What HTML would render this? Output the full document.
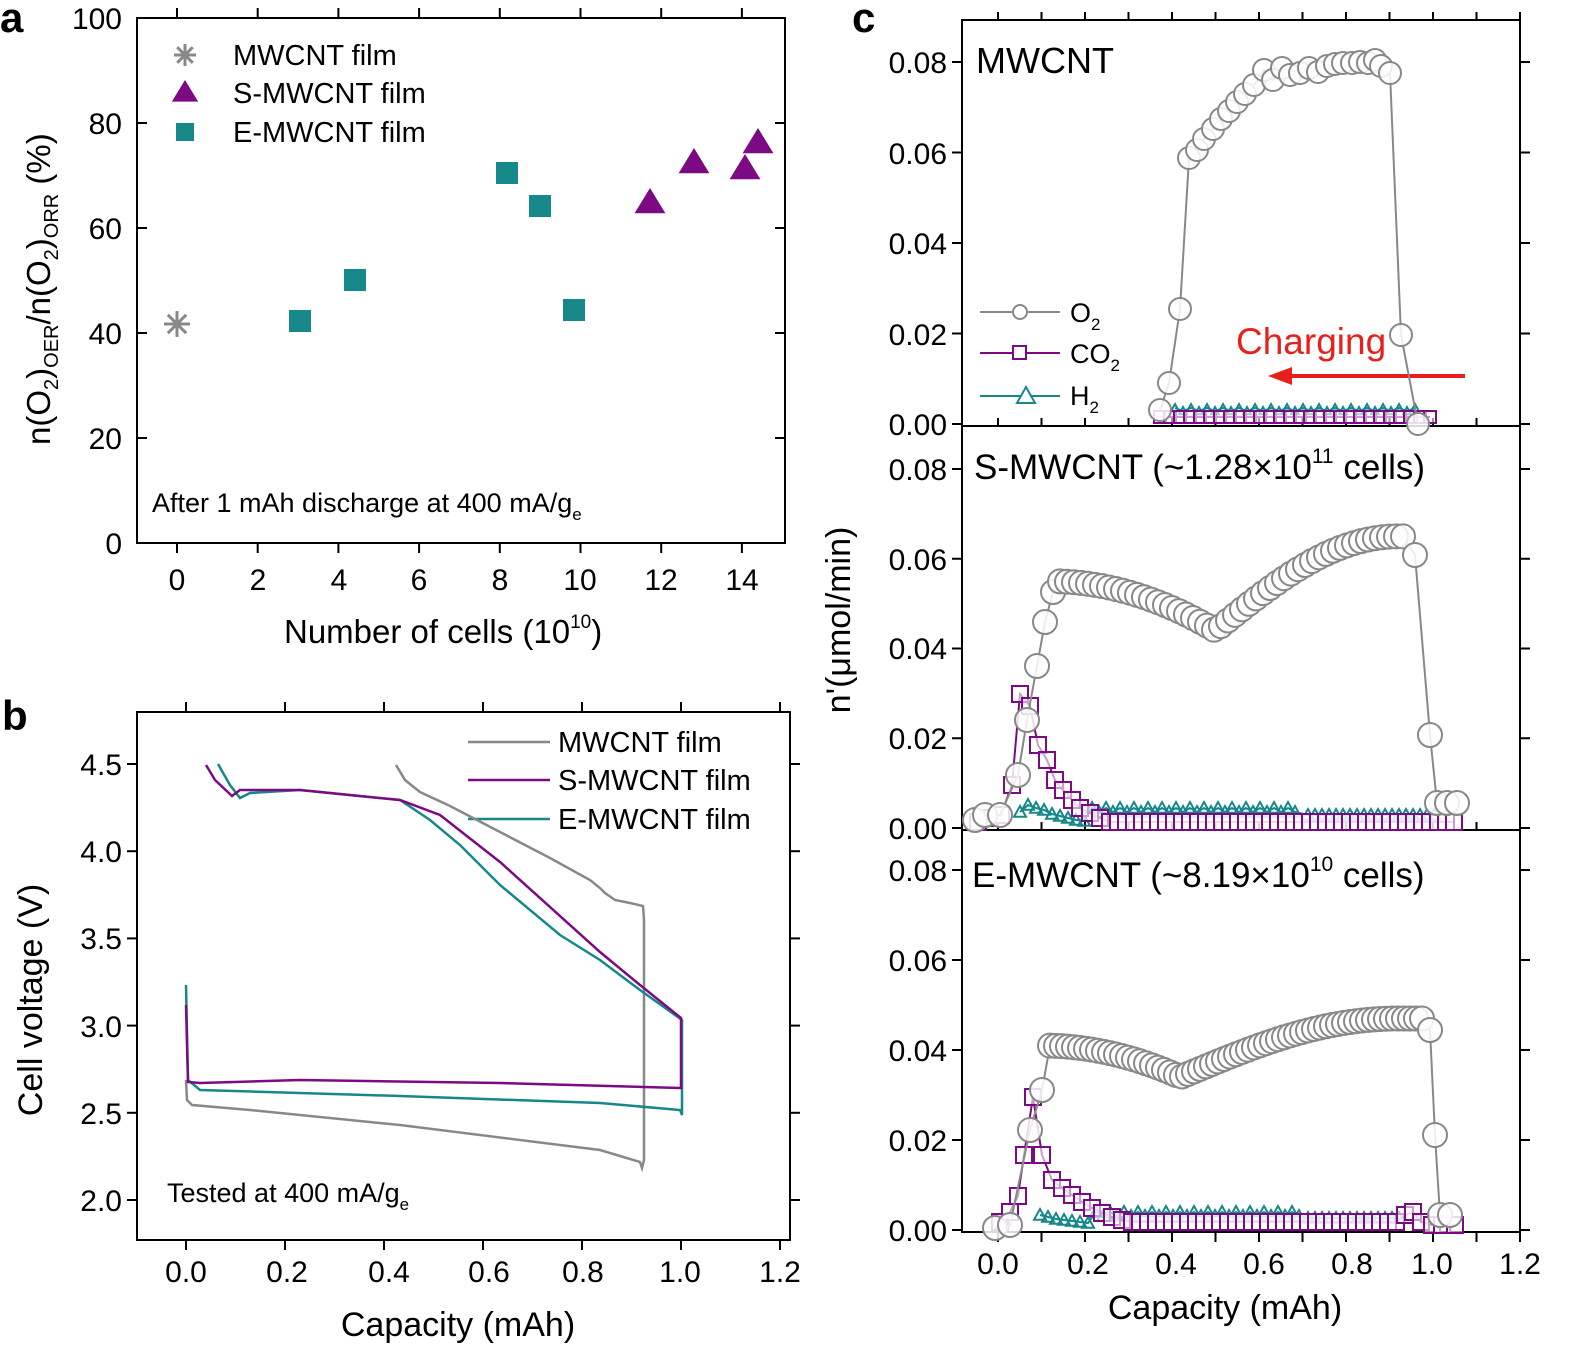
<!DOCTYPE html>
<html><head><meta charset="utf-8"><style>
body{margin:0;background:#fff}
svg text{font-family:"Liberation Sans",sans-serif;fill:#000}
</style></head><body>
<svg id="s" width="1575" height="1354" viewBox="0 0 1575 1354" xmlns="http://www.w3.org/2000/svg">
<g fill="none" stroke="#000" stroke-width="2">
<rect x="137" y="18" width="648" height="525"/>
<rect x="137" y="712" width="653" height="528"/>
<rect x="962" y="20" width="558" height="1212"/>
<line x1="962" y1="426" x2="1520" y2="426"/>
<line x1="962" y1="830" x2="1520" y2="830"/>
</g>
<g font-size="30" text-anchor="end">
<text x="122" y="29">100</text><text x="122" y="134">80</text><text x="122" y="239">60</text><text x="122" y="344">40</text><text x="122" y="449">20</text><text x="122" y="554">0</text>
</g>
<g font-size="30" text-anchor="middle">
<text x="177" y="590">0</text><text x="258" y="590">2</text><text x="339" y="590">4</text><text x="419" y="590">6</text><text x="500" y="590">8</text><text x="580" y="590">10</text><text x="661" y="590">12</text><text x="742" y="590">14</text>
</g>
<text x="284" y="643" font-size="33">Number of cells (10<tspan font-size="19" dy="-15">10</tspan><tspan dy="15">)</tspan></text>
<text transform="translate(50,445) rotate(-90)" font-size="33">n(O<tspan font-size="20" dy="8">2</tspan><tspan dy="-8">)</tspan><tspan font-size="20" dy="8">OER</tspan><tspan dy="-8">/n(O</tspan><tspan font-size="20" dy="8">2</tspan><tspan dy="-8">)</tspan><tspan font-size="20" dy="8">ORR</tspan><tspan dy="-8"> (%)</tspan></text>
<text x="152" y="512" font-size="27">After 1 mAh discharge at 400 mA/g<tspan font-size="17" dy="8">e</tspan></text>
<g font-size="29"><text x="233" y="65">MWCNT film</text><text x="233" y="103">S-MWCNT film</text><text x="233" y="142">E-MWCNT film</text></g>
<g font-size="30" text-anchor="end">
<text x="122" y="775">4.5</text><text x="122" y="862">4.0</text><text x="122" y="949">3.5</text><text x="122" y="1037">3.0</text><text x="122" y="1124">2.5</text><text x="122" y="1211">2.0</text>
</g>
<g font-size="30" text-anchor="middle">
<text x="186" y="1282">0.0</text><text x="287" y="1282">0.2</text><text x="389" y="1282">0.4</text><text x="489" y="1282">0.6</text><text x="583" y="1282">0.8</text><text x="680" y="1282">1.0</text><text x="780" y="1282">1.2</text>
</g>
<text x="458" y="1336" font-size="34" text-anchor="middle">Capacity (mAh)</text>
<text transform="translate(42,1000) rotate(-90)" font-size="34" text-anchor="middle">Cell voltage (V)</text>
<text x="167" y="1202" font-size="27">Tested at 400 mA/g<tspan font-size="17" dy="8">e</tspan></text>
<g font-size="29"><text x="558" y="752">MWCNT film</text><text x="558" y="790">S-MWCNT film</text><text x="558" y="829">E-MWCNT film</text></g>
<g stroke-width="2.5" fill="none">
<line x1="468" y1="742" x2="550" y2="742" stroke="#888"/>
<line x1="468" y1="780" x2="550" y2="780" stroke="#7b0a84"/>
<line x1="468" y1="819" x2="550" y2="819" stroke="#16888a"/>
<polyline stroke="#888" points="186,1080 187,1100 192,1105 250,1110 400,1125 600,1150 640,1162 642,1168 644,1160 644,920 643,906 630,903 615,900 605,893 600,888 590,880 550,858 500,832 450,806 420,792 405,780 396,765"/>
<polyline stroke="#16888a" points="186,985 188,1080 200,1090 400,1096 600,1103 680,1110 682,1115 682,1020 640,990 600,960 560,935 500,885 460,845 430,820 400,800 300,790 250,793 240,798 230,785 218,764"/>
<polyline stroke="#7b0a84" points="186,1005 188,1082 200,1083 300,1080 500,1083 680,1088 681,1088 681,1018 640,985 600,952 500,862 440,815 400,800 300,790 240,790 232,796 215,780 206,765"/>
</g>
<g font-size="30" text-anchor="end">
<text x="947" y="73">0.08</text><text x="947" y="164">0.06</text><text x="947" y="254">0.04</text><text x="947" y="345">0.02</text><text x="947" y="435">0.00</text>
<text x="947" y="480">0.08</text><text x="947" y="570">0.06</text><text x="947" y="659">0.04</text><text x="947" y="749">0.02</text><text x="947" y="839">0.00</text>
<text x="947" y="881">0.08</text><text x="947" y="971">0.06</text><text x="947" y="1061">0.04</text><text x="947" y="1151">0.02</text><text x="947" y="1241">0.00</text>
</g>
<g font-size="30" text-anchor="middle">
<text x="998" y="1274">0.0</text><text x="1088" y="1274">0.2</text><text x="1176" y="1274">0.4</text><text x="1264" y="1274">0.6</text><text x="1352" y="1274">0.8</text><text x="1432" y="1274">1.0</text><text x="1520" y="1274">1.2</text>
</g>
<text x="1225" y="1319" font-size="34" text-anchor="middle">Capacity (mAh)</text>
<text transform="translate(850,620) rotate(-90)" font-size="34" text-anchor="middle">n'(μmol/min)</text>
<text x="976" y="73" font-size="36">MWCNT</text>
<text x="974" y="479" font-size="35">S-MWCNT (~1.28×10<tspan font-size="21" dy="-16">11</tspan><tspan dy="16"> cells)</tspan></text>
<text x="972" y="887" font-size="35">E-MWCNT (~8.19×10<tspan font-size="21" dy="-16">10</tspan><tspan dy="16"> cells)</tspan></text>
<text x="1236" y="354" font-size="37" style="fill:#e8201c">Charging</text>
<line x1="1465" y1="376" x2="1290" y2="376" stroke="#e8201c" stroke-width="4"/>
<polygon points="1268,376 1292,367 1292,385" fill="#e8201c"/>
<g stroke-width="2" fill="#fff">
<line x1="980" y1="312" x2="1060" y2="312" stroke="#888"/><circle cx="1020" cy="312" r="7" stroke="#888"/>
<line x1="980" y1="353" x2="1060" y2="353" stroke="#7b0a84"/><rect x="1013" y="346" width="13" height="13" stroke="#7b0a84"/>
<line x1="980" y1="396" x2="1060" y2="396" stroke="#16888a"/><polygon points="1026,387 1035,403 1017,403" stroke="#16888a"/>
</g>
<g font-size="27"><text x="1070" y="322">O<tspan font-size="17" dy="8">2</tspan></text><text x="1070" y="363">CO<tspan font-size="17" dy="8">2</tspan></text><text x="1070" y="405">H<tspan font-size="17" dy="8">2</tspan></text></g>
<text x="0" y="32" font-size="42" font-weight="bold">a</text>
<text x="2" y="730" font-size="42" font-weight="bold">b</text>
<text x="852" y="32" font-size="42" font-weight="bold">c</text>
<g id="dyn"></g>
</svg>
<script>
var NS="http://www.w3.org/2000/svg",g=document.getElementById("dyn");
function el(t,a){var e=document.createElementNS(NS,t);for(var k in a)e.setAttribute(k,a[k]);g.appendChild(e);return e;}
function ticks(){
 var i,x;
 for(i=0;i<=5;i++){var y=543-i*105;el("line",{x1:137,y1:y,x2:147,y2:y,stroke:"#000","stroke-width":2});el("line",{x1:775,y1:y,x2:785,y2:y,stroke:"#000","stroke-width":2});}
 for(i=0;i<=7;i++){x=177+i*80.7;el("line",{x1:x,y1:543,x2:x,y2:553,stroke:"#000","stroke-width":2});el("line",{x1:x,y1:18,x2:x,y2:8,stroke:"#000","stroke-width":2});}
 for(i=0;i<=5;i++){var y=764+i*87.2;el("line",{x1:127,y1:y,x2:137,y2:y,stroke:"#000","stroke-width":2});el("line",{x1:790,y1:y,x2:800,y2:y,stroke:"#000","stroke-width":2});}
 for(i=0;i<=6;i++){x=186+i*99;el("line",{x1:x,y1:1240,x2:x,y2:1250,stroke:"#000","stroke-width":2});el("line",{x1:x,y1:712,x2:x,y2:702,stroke:"#000","stroke-width":2});}
 var tops=[[424,90.5],[828,89.75],[1230,90]];
 tops.forEach(function(t){for(i=0;i<=4;i++){var y=t[0]-i*t[1];el("line",{x1:952,y1:y,x2:962,y2:y,stroke:"#000","stroke-width":2});el("line",{x1:1520,y1:y,x2:1530,y2:y,stroke:"#000","stroke-width":2});}});
 for(i=0;i<=12;i++){x=998+i*43.5;[20,426,830].forEach(function(y){el("line",{x1:x,y1:y,x2:x,y2:y-8,stroke:"#000","stroke-width":2});});el("line",{x1:x,y1:1232,x2:x,y2:1242,stroke:"#000","stroke-width":2});}
}
ticks();
function ast(x,y,r,c){for(var k=0;k<4;k++){var a=k*Math.PI/4;el("line",{x1:x-r*Math.cos(a),y1:y-r*Math.sin(a),x2:x+r*Math.cos(a),y2:y+r*Math.sin(a),stroke:c,"stroke-width":3});}}
function tri(x,y,r,c){el("polygon",{points:(x)+","+(y-r)+" "+(x+r*1.1)+","+(y+r*0.8)+" "+(x-r*1.1)+","+(y+r*0.8),fill:c});}
function sq(x,y,r,c){el("rect",{x:x-r,y:y-r,width:2*r,height:2*r,fill:c});}
ast(177,324,13,"#888");ast(185,55,11,"#888");
[[650,202],[694,162],[745,168],[758,142]].forEach(function(p){tri(p[0],p[1],14,"#7b0a84");});tri(185,92,12,"#7b0a84");
[[300,321],[355,280],[507,173],[540,206],[574,310]].forEach(function(p){sq(p[0],p[1],11,"#16888a");});sq(185,132,9,"#16888a");
function series(pts,kind,col,r){
 var pl=pts.map(function(p){return p[0]+","+p[1]}).join(" ");
 el("polyline",{points:pl,fill:"none",stroke:col,"stroke-width":2});
 pts.forEach(function(p){
  if(kind=="c")el("circle",{cx:p[0],cy:p[1],r:r,fill:"#fff","fill-opacity":0.85,stroke:col,"stroke-width":2});
  else if(kind=="s")el("rect",{x:p[0]-r,y:p[1]-r,width:2*r,height:2*r,fill:"#fff","fill-opacity":0.6,stroke:col,"stroke-width":2});
  else el("polygon",{points:p[0]+","+(p[1]-r)+" "+(p[0]+r)+","+(p[1]+r*0.8)+" "+(p[0]-r)+","+(p[1]+r*0.8),fill:"none",stroke:col,"stroke-width":2});
 });
}
function range(x0,x1,dx,f){var a=[];for(var x=x0;x<=x1;x+=dx)a.push([x,f(x)]);return a;}
var GR="#888",PU="#7b0a84",TE="#16888a";
series(range(1175,1420,8,function(x){return 408+((x/8|0)%2)*3}),"t",TE,4);
series(range(1160,1430,10,function(x){return 417}),"s",PU,6);
series([[1160,410],[1169,383],[1180,309],[1189,158],[1197,150],[1204,139],[1213,129],[1221,119],[1229,111],[1237,102],[1245,94],[1254,85],[1264,70],[1273,80],[1282,68],[1290,75],[1300,73],[1309,68],[1318,72],[1327,66],[1335,64],[1343,63],[1352,63],[1360,62],[1368,63],[1375,60],[1381,66],[1390,73],[1401,335],[1418,424]],"c",GR,11);
var mT=[[1020,812],[1028,805],[1036,808],[1044,810],[1052,814],[1060,816],[1068,818],[1076,820],[1084,821]].concat(range(1092,1300,7,function(x){return 808+((x/7|0)%2)*4})).concat(range(1308,1440,7,function(x){return 815}));
series(mT,"t",TE,6);
var mC=[[978,822],[988,818],[1001,815],[1012,785],[1020,694],[1030,706],[1038,745],[1047,760],[1055,780],[1063,790],[1072,800],[1080,808],[1090,813],[1100,818]].concat(range(1110,1460,8,function(){return 822}));
series(mC,"s",PU,8);
function mO(x){var c=(x-998)/435;var v;if(c<0.5)v=0.055-0.011*Math.pow(Math.max(0,c-0.12)/0.38,2);else v=0.044+0.021*Math.sin(Math.min(1,(c-0.5)/0.42)*Math.PI/2);return 828-v*4487;}
series([[975,820],[985,815],[1000,815],[1018,775],[1027,720],[1037,666],[1045,622],[1053,592]].concat(range(1060,1408,7,mO)).concat([[1415,555],[1430,735],[1437,803],[1447,803],[1457,803]]),"c",GR,12);
var bT=[[1040,1215],[1048,1217],[1056,1219],[1064,1220],[1072,1221],[1080,1222],[1088,1223]].concat(range(1096,1300,7,function(x){return 1212+((x/7|0)%2)*4})).concat(range(1308,1400,7,function(){return 1218}));
series(bT,"t",TE,6);
var bC=[[1000,1222],[1010,1212],[1018,1196],[1024,1155],[1033,1097],[1042,1155],[1052,1180],[1062,1188],[1072,1195],[1082,1202],[1092,1208],[1102,1213],[1112,1217],[1122,1220]].concat(range(1132,1400,8,function(){return 1222})).concat([[1405,1215],[1413,1212],[1421,1222],[1432,1225],[1442,1225],[1455,1225]]);
series(bC,"s",PU,8);
function bO(x){var c=(x-998)/435;var v;if(c<0.42)v=0.041-0.007*Math.pow((c-0.1)/0.32,2);else v=0.034+0.013*Math.sin(Math.min(1,(c-0.42)/0.5)*Math.PI/2);return 1230-v*4500;}
series([[995,1228],[1010,1225],[1030,1130],[1042,1090]].concat(range(1050,1425,6,bO)).concat([[1430,1030],[1435,1135],[1440,1215],[1450,1215]]),"c",GR,12);
</script>
</body></html>
